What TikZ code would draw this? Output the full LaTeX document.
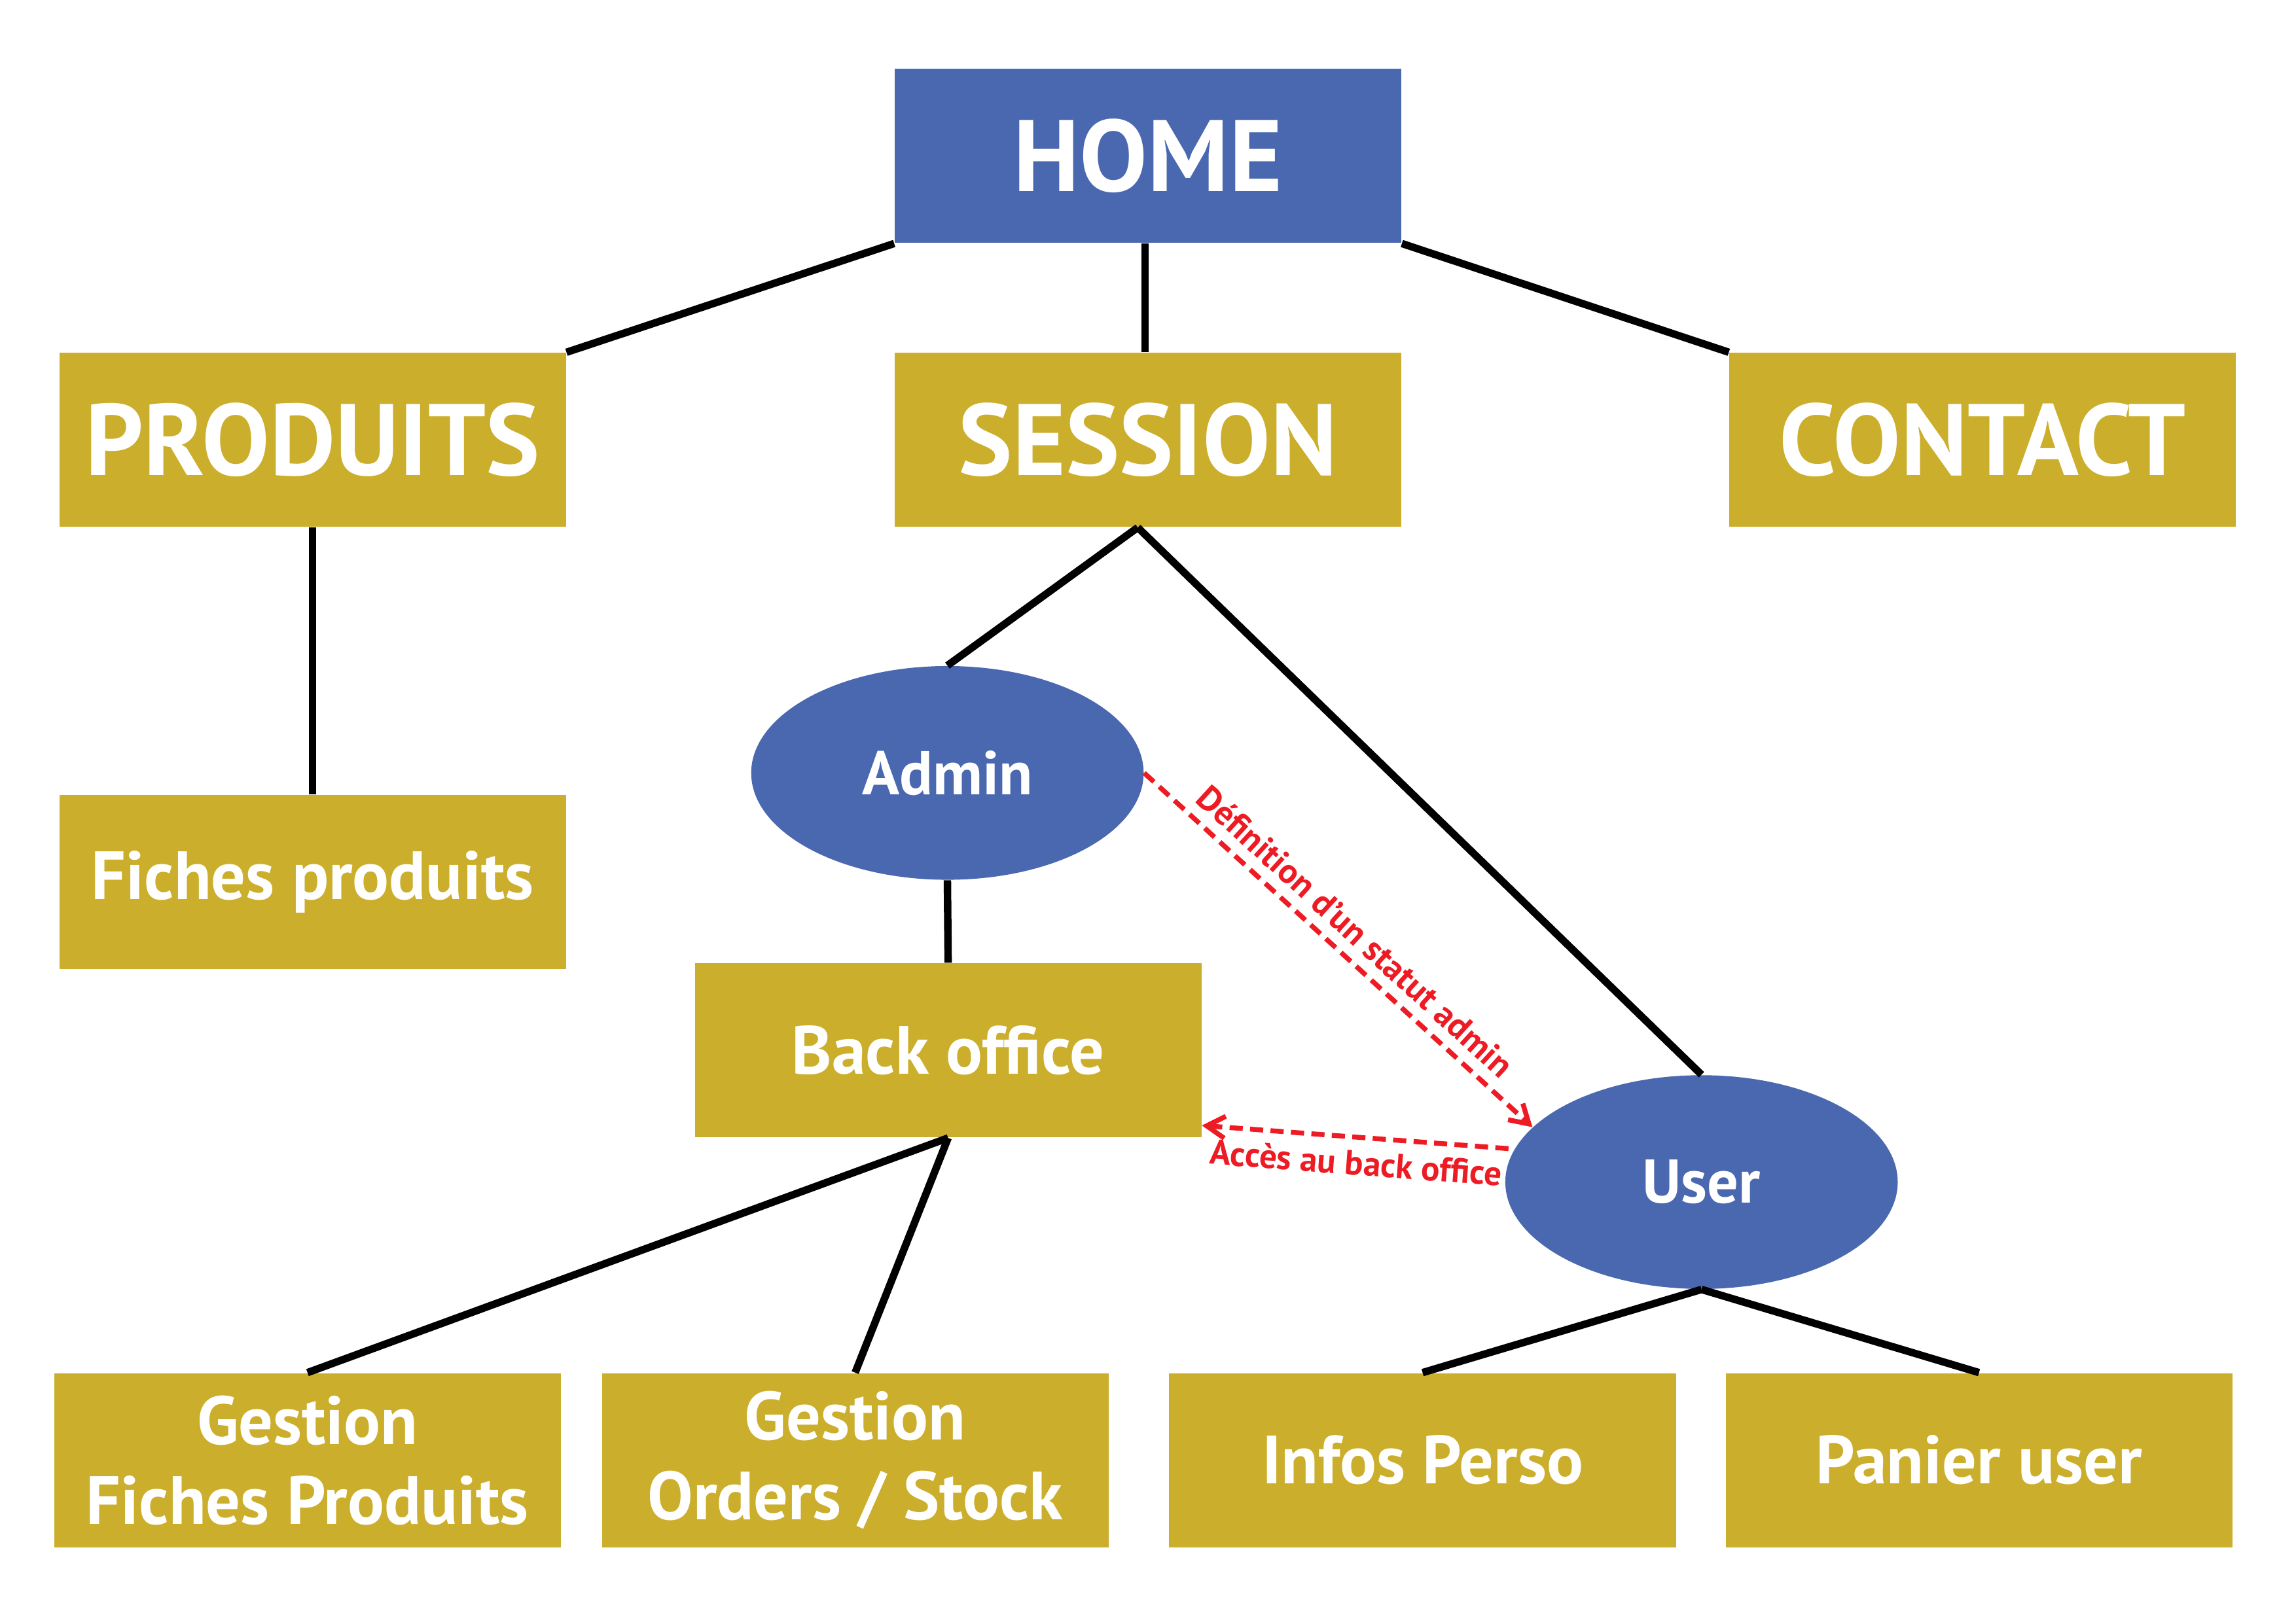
\documentclass[tikz,border=0pt]{standalone}
\usepackage{fontspec}
\setmainfont{PT Sans}
\usepackage{tikz}
\usetikzlibrary{shapes.geometric, arrows.meta, positioning}
\usepackage{xcolor}
\definecolor{homeblue}{RGB}{74,104,175}
\definecolor{boxgold}{RGB}{203,174,43}
\definecolor{linkred}{RGB}{237,28,36}

\begin{document}
\begin{tikzpicture}[
    every node/.style={text=white, font=\bfseries},
    bigbox/.style={rectangle, fill=boxgold, minimum width=6.92cm, minimum height=2.38cm,
                   inner sep=0pt, font=\bfseries\fontsize{39.5}{44}\selectfont},
    box/.style={rectangle, fill=boxgold, align=center, minimum width=6.92cm, minimum height=2.38cm,
                inner sep=0pt, font=\bfseries\fontsize{26.5}{31}\selectfont},
    oval/.style={ellipse, fill=homeblue, minimum width=5.36cm, minimum height=2.92cm,
                 inner sep=0pt, font=\bfseries\fontsize{24}{28}\selectfont},
    link/.style={line width=2.9pt, black},
    redlink/.style={line width=1.9pt, linkred, dash pattern=on 0.18cm off 0.1cm},
    redtip/.tip={Straight Barb[length=2.5mm, width=3mm]},
    redlabel/.style={text=linkred, font=\bfseries\fontsize{13.5}{15}\selectfont, inner sep=4pt}
]
\useasboundingbox (0,0) rectangle (31.36,-22.18);
% top level
\node[bigbox, fill=homeblue] (home) at (15.68,-2.13) {HOME};
\node[bigbox] (produits) at (4.27,-6.01) {PRODUITS};
\node[bigbox] (session) at (15.68,-6.01) {SESSION};
\node[bigbox] (contact) at (27.08,-6.01) {CONTACT};
% second level
\node[box] (fiches) at (4.27,-12.05) {Fiches produits};
\node[oval] (admin) at (12.94,-10.56) {Admin};
\node[box] (back) at (12.95,-14.35) {Back office};
\node[oval] (user) at (23.24,-16.15) {User};
% bottom row
\node[box] (gestfiches) at (4.20,-19.95) {Gestion\\Fiches Produits};
\node[box] (gestorders) at (11.68,-19.95) {Gestion\\Orders / Stock};
\node[box] (infos) at (19.43,-19.95) {Infos Perso};
\node[box] (panier) at (27.03,-19.95) {Panier user};

\coordinate (sessfoot) at ([xshift=-0.14cm]session.south);
\draw[link] (home.south west) -- (produits.north east);
\draw[link] ([xshift=-0.04cm]home.south) -- ([xshift=-0.04cm]session.north);
\draw[link] (home.south east) -- (contact.north west);
\draw[link] (produits.south) -- (fiches.north);
\draw[link] (sessfoot) -- (admin.north);
\draw[link] (sessfoot) -- (user.north);
\draw[link] (admin.south) -- (back.north);
\draw[link] (back.south) -- (gestfiches.north);
\draw[link] (back.south) -- (gestorders.north);
\draw[link] (user.south) -- (infos.north);
\draw[link] (user.south) -- (panier.north);

% admin rights
\draw[redlink, -{redtip}] (admin.east) -- (user.162.7)
    node[redlabel, midway, sloped, above] {Définition d’un statut admin};
\draw[redlink, {redtip}-] ([yshift=0.17cm]back.south east) -- (user.170.4)
    node[redlabel, midway, sloped, below] {Accès au back office};
\end{tikzpicture}
\end{document}
